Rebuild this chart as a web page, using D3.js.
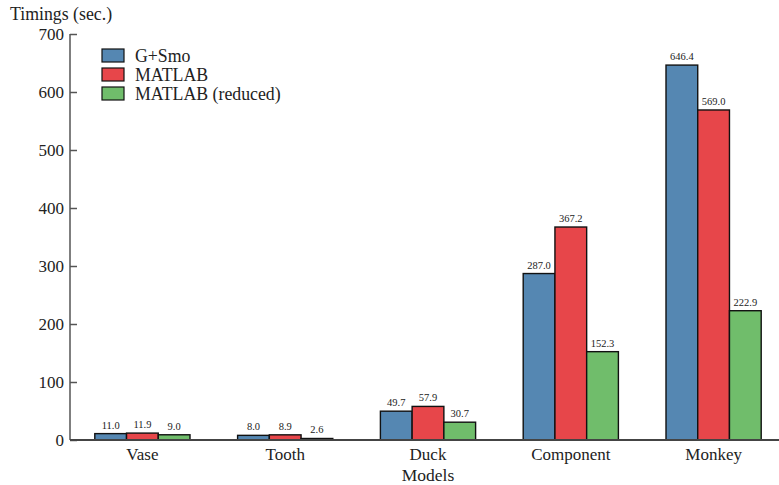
<!DOCTYPE html>
<html>
<head>
<meta charset="utf-8">
<script src="https://cdn.jsdelivr.net/npm/d3@7"></script>
<style>
  html, body { margin: 0; padding: 0; background: #fff; }
  svg, svg text { font-family: "Liberation Serif", "DejaVu Serif", serif !important; }
  svg { display: block; }
</style>
</head>
<body>
<svg id="chart" width="779" height="485"></svg>
<script>
// Timing results per model
const models = ["Vase", "Tooth", "Duck", "Component", "Monkey"];
const seriesNames = ["G+Smo", "MATLAB", "MATLAB (reduced)"];
const gsmo = [11.0, 8.0, 49.7, 287.0, 646.4];
const matlab = [11.9, 8.9, 57.9, 367.2, 569.0];
const matlabReduced = [9.0, 2.6, 30.7, 152.3, 222.9];
const yTicks = [0, 100, 200, 300, 400, 500, 600, 700];
const colors = ["#5587b2", "#e7464a", "#70bd6b"];

const series = [gsmo, matlab, matlabReduced];

const svg = d3.select("#chart");
const x0 = 71, y0 = 440, yTop = 34;

const x = d3.scaleBand().domain(models).range([x0, 785])
  .paddingInner(1 / 3).paddingOuter(1 / 6);
const xInner = d3.scaleBand().domain(seriesNames).range([0, x.bandwidth()]);
const y = d3.scaleLinear().domain([0, 700]).range([y0, yTop]);

// Bars
const groups = svg.append("g").selectAll("g")
  .data(models)
  .join("g")
  .attr("transform", d => `translate(${x(d)},0)`);

groups.selectAll("rect")
  .data((m, i) => seriesNames.map((s, j) => ({ s, j, v: series[j][i] })))
  .join("rect")
  .attr("x", d => xInner(d.s))
  .attr("width", xInner.bandwidth())
  .attr("y", d => y(d.v))
  .attr("height", d => y(0) - y(d.v))
  .attr("fill", d => colors[d.j])
  .attr("stroke", "#111")
  .attr("stroke-width", 1.4);

groups.selectAll("text")
  .data((m, i) => seriesNames.map((s, j) => ({ s, j, v: series[j][i] })))
  .join("text")
  .attr("x", d => xInner(d.s) + xInner.bandwidth() / 2)
  .attr("y", d => y(d.v) - 5)
  .attr("text-anchor", "middle")
  .attr("font-size", 10.5)
  .attr("fill", "#222")
  .text(d => d.v.toFixed(1));

// Y axis
const yAxis = svg.append("g")
  .attr("transform", `translate(${x0 - 1},0)`)
  .call(d3.axisRight(y).tickValues(yTicks).tickSize(7).tickFormat(d3.format("d")))
  .attr("font-family", null);
yAxis.select(".domain").attr("stroke", "#555").attr("stroke-width", 1.5)
  .attr("d", `M0,${y0}V${yTop}`);
yAxis.selectAll(".tick line").attr("stroke", "#555").attr("stroke-width", 1.5);
yAxis.selectAll(".tick text")
  .attr("x", -6).attr("text-anchor", "end")
  .attr("font-size", 17)
  .attr("fill", "#222");

// X axis
const xAxis = svg.append("g")
  .attr("transform", `translate(0,${y0})`)
  .call(d3.axisBottom(x).tickSize(0).tickPadding(8))
  .attr("font-family", null);
xAxis.select(".domain").attr("stroke", "#444").attr("stroke-width", 1.8)
  .attr("d", `M${x0 - 1},0H779`);
xAxis.selectAll(".tick text")
  .attr("font-size", 17)
  .attr("fill", "#222");

// Axis titles
svg.append("text")
  .attr("x", 10).attr("y", 20)
  .attr("font-size", 17.8).attr("fill", "#222")
  .text("Timings (sec.)");
svg.append("text")
  .attr("x", (x0 + 785) / 2).attr("y", 481)
  .attr("text-anchor", "middle")
  .attr("font-size", 17.5).attr("fill", "#222")
  .text("Models");

// Legend
const legend = svg.append("g").attr("transform", "translate(102,49)");
const rows = legend.selectAll("g").data(seriesNames).join("g")
  .attr("transform", (d, i) => `translate(0,${i * 19})`);
rows.append("rect")
  .attr("width", 22).attr("height", 13)
  .attr("fill", (d, i) => colors[i])
  .attr("stroke", "#111").attr("stroke-width", 1.2);
rows.append("text")
  .attr("x", 33).attr("y", 12.5)
  .attr("font-size", 17.8).attr("fill", "#222")
  .text(d => d);
</script>
</body>
</html>
